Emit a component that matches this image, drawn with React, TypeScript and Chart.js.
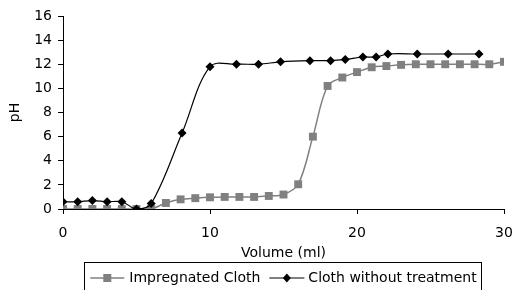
import React, { useEffect, useRef } from "react";
import { Chart, registerables } from "chart.js";

Chart.register(...registerables);

const seriesNames = ["Impregnated Cloth", "Cloth without treatment"];

const impregnatedX = [0, 1, 2, 3, 4, 5, 6, 7, 8, 9, 10, 11, 12, 13, 14, 15, 16, 17, 18, 19, 20, 21, 22, 23, 24, 25, 26, 27, 28, 29, 30];
const impregnatedPH = [0, 0, 0, 0, 0, 0, 0, 0.5, 0.8, 0.9, 0.97, 1.0, 1.0, 1.0, 1.08, 1.2, 2.05, 6.0, 10.2, 10.9, 11.35, 11.75, 11.85, 11.95, 12.0, 12.0, 12.0, 12.0, 12.0, 12.0, 12.2];

const untreatedX = [0, 1, 2, 3, 4, 5, 6, 8.1, 10, 11.8, 13.3, 14.8, 16.8, 18.2, 19.2, 20.4, 21.3, 22.1, 24.1, 26.2, 28.3];
const untreatedPH = [0.6, 0.6, 0.7, 0.6, 0.6, 0, 0.45, 6.3, 11.8, 12.0, 12.0, 12.2, 12.3, 12.3, 12.4, 12.6, 12.6, 12.85, 12.85, 12.85, 12.85];

const xTitle = "Volume (ml)";
const yTitle = "pH";

const FONT = "'DejaVu Sans', 'Liberation Sans', Arial, sans-serif";
const GRAY = "#808080";

const legendBoxPlugin = {
  id: "legendBox",
  afterDraw(chart: any) {
    const ctx = chart.ctx;
    const area = chart.chartArea;
    const ds = chart.data.datasets;
    ctx.save();
    ctx.font = `14px ${FONT}`;
    const w1 = ctx.measureText(ds[0].label).width;
    const w2 = ctx.measureText(ds[1].label).width;
    const line1 = 34, gap1 = 5, sep = 9, line2 = 35, gap2 = 4;
    const total = line1 + gap1 + w1 + sep + line2 + gap2 + w2;
    const cx = (area.left + area.right) / 2;
    const left = cx - total / 2;
    const y = 278;
    ctx.strokeStyle = "#000";
    ctx.lineWidth = 1;
    ctx.strokeRect(Math.round(left - 6) + 0.5, 262.5, Math.round(total + 11), 40);
    let x = left;
    ctx.strokeStyle = GRAY;
    ctx.lineWidth = 1.5;
    ctx.beginPath();
    ctx.moveTo(x, y);
    ctx.lineTo(x + line1, y);
    ctx.stroke();
    ctx.fillStyle = GRAY;
    ctx.fillRect(x + line1 / 2 - 4, y - 4, 8, 8);
    x += line1 + gap1;
    ctx.fillStyle = "#000";
    ctx.textBaseline = "middle";
    ctx.textAlign = "left";
    ctx.fillText(ds[0].label, x, y);
    x += w1 + sep;
    ctx.strokeStyle = "#000";
    ctx.lineWidth = 1.2;
    ctx.beginPath();
    ctx.moveTo(x, y);
    ctx.lineTo(x + line2, y);
    ctx.stroke();
    const mx = x + line2 / 2;
    ctx.beginPath();
    ctx.moveTo(mx, y - 4.5);
    ctx.lineTo(mx + 4, y);
    ctx.lineTo(mx, y + 4.5);
    ctx.lineTo(mx - 4, y);
    ctx.closePath();
    ctx.fill();
    x += line2 + gap2;
    ctx.fillText(ds[1].label, x, y);
    ctx.restore();
  },
};

export default function App() {
  const ref = useRef<HTMLCanvasElement>(null);

  useEffect(() => {
    document.body.style.margin = "0";
    const canvas = ref.current;
    if (!canvas) return;
    const chart = new Chart(canvas, {
      type: "line",
      data: {
        datasets: [
          {
            label: seriesNames[0],
            data: impregnatedX.map((x, i) => ({ x, y: impregnatedPH[i] })),
            borderColor: GRAY,
            backgroundColor: GRAY,
            borderWidth: 1.5,
            pointStyle: "rect",
            pointRadius: 5.6,
            pointBorderWidth: 0,
            tension: 0.35,
            fill: false,
            order: 2,
          },
          {
            label: seriesNames[1],
            data: untreatedX.map((x, i) => ({ x, y: untreatedPH[i] })),
            borderColor: "#000",
            backgroundColor: "#000",
            borderWidth: 1.2,
            pointStyle: "rectRot",
            pointRadius: 4.5,
            pointBorderWidth: 0,
            tension: 0.35,
            fill: false,
            order: 1,
          },
        ],
      },
      options: {
        animation: false,
        responsive: false,
        devicePixelRatio: 1,
        layout: { padding: { left: 0, right: 9, top: 16, bottom: 28 } },
        plugins: {
          legend: { display: false },
          tooltip: { enabled: false },
        },
        scales: {
          x: {
            type: "linear",
            min: 0,
            max: 30,
            ticks: {
              stepSize: 10,
              color: "#000",
              font: { family: FONT, size: 14 },
              padding: 11,
            },
            grid: {
              drawOnChartArea: false,
              drawTicks: true,
              tickLength: 5,
              color: "#000",
            },
            border: { color: "#000", width: 1 },
            title: {
              display: true,
              text: xTitle,
              color: "#000",
              font: { family: FONT, size: 14 },
              padding: { top: 0, bottom: 0 },
            },
            afterFit(scale: any) {
              scale.height = 53;
              scale.paddingLeft = 0;
              scale.paddingRight = 0;
            },
          },
          y: {
            type: "linear",
            min: 0,
            max: 16,
            ticks: {
              stepSize: 2,
              color: "#000",
              font: { family: FONT, size: 14 },
              padding: 6,
            },
            grid: {
              drawOnChartArea: false,
              drawTicks: true,
              tickLength: 5,
              color: "#000",
            },
            border: { color: "#000", width: 1 },
            title: {
              display: true,
              text: yTitle,
              color: "#000",
              font: { family: FONT, size: 14 },
              padding: { top: 7, bottom: 0 },
            },
            afterFit(scale: any) {
              scale.width = 63;
              scale.paddingTop = 0;
              scale.paddingBottom = 0;
            },
          },
        },
      },
      plugins: [legendBoxPlugin],
    });
    return () => chart.destroy();
  }, []);

  return (
    <div style={{ position: "absolute", left: 0, top: 0, width: 513, height: 290 }}>
      <canvas ref={ref} width={513} height={290} />
    </div>
  );
}
